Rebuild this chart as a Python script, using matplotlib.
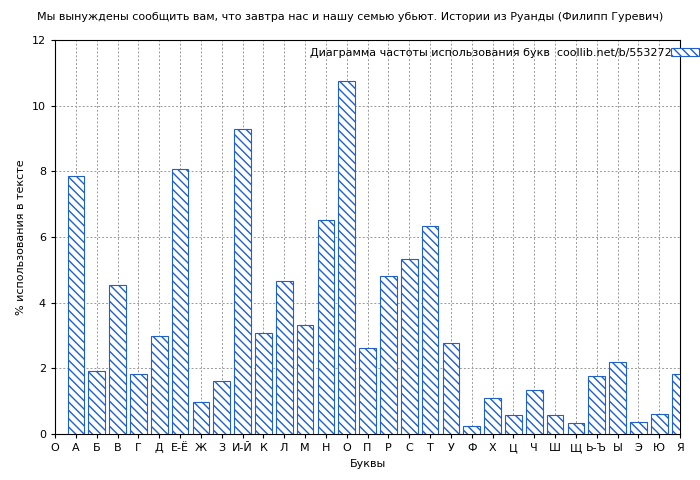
import matplotlib
matplotlib.use('Agg')
import matplotlib.pyplot as plt

letters = ['А', 'Б', 'В', 'Г', 'Д', 'Е-Ё', 'Ж', 'З', 'И-Й', 'К', 'Л', 'М', 'Н', 'О', 'П',
           'Р', 'С', 'Т', 'У', 'Ф', 'Х', 'Ц', 'Ч', 'Ш', 'Щ', 'Ь-Ъ', 'Ы', 'Э', 'Ю', 'Я']
values = [7.85, 1.92, 4.54, 1.83, 3.0, 8.07, 0.97, 1.61, 9.29, 3.08, 4.66, 3.32, 6.52, 10.75, 2.62,
          4.81, 5.33, 6.34, 2.77, 0.24, 1.1, 0.58, 1.34, 0.58, 0.33, 1.77, 2.19, 0.37, 0.61, 1.83]

plt.rcParams['font.size'] = 8
plt.rcParams['hatch.color'] = '#1f5fcf'
fig = plt.figure(figsize=(7, 4.8), dpi=100)
ax = fig.add_axes([55/700, 46/480, 625/700, 394/480])

pos = list(range(1, len(letters) + 1))
ax.bar(pos, values, width=0.8, color='white', edgecolor='#1f5fcf', hatch='\\\\\\\\',
       linewidth=0.8, label='Диаграмма частоты использования букв  coollib.net/b/553272', zorder=3)
ax.set_xlim(0, 30)
ax.set_ylim(0, 12)
ax.set_xticks([0] + pos)
ax.set_xticklabels(['О'] + letters)
ax.set_yticks(range(0, 13, 2))
ax.grid(True, linestyle=(0, (2, 2)), color='#999999', linewidth=0.7, zorder=0)
ax.tick_params(length=3)
ax.set_xlabel('Буквы')
ax.set_ylabel('% использования в тексте')
fig.suptitle('Мы вынуждены сообщить вам, что завтра нас и нашу семью убьют. Истории из Руанды (Филипп Гуревич)',
             fontsize=8, y=0.975)
leg = ax.legend(loc='upper right', frameon=False, handlelength=2.5, borderaxespad=0.3)
leg._legend_box.align = 'right'
for h, t in zip(leg.legend_handles, leg.get_texts()):
    pass
# put the text before the handle like the original
leg._legend_box.get_children()[1].get_children()[0].get_children()[0].mode = 'expand'
fig.savefig('out.png', dpi=100)
